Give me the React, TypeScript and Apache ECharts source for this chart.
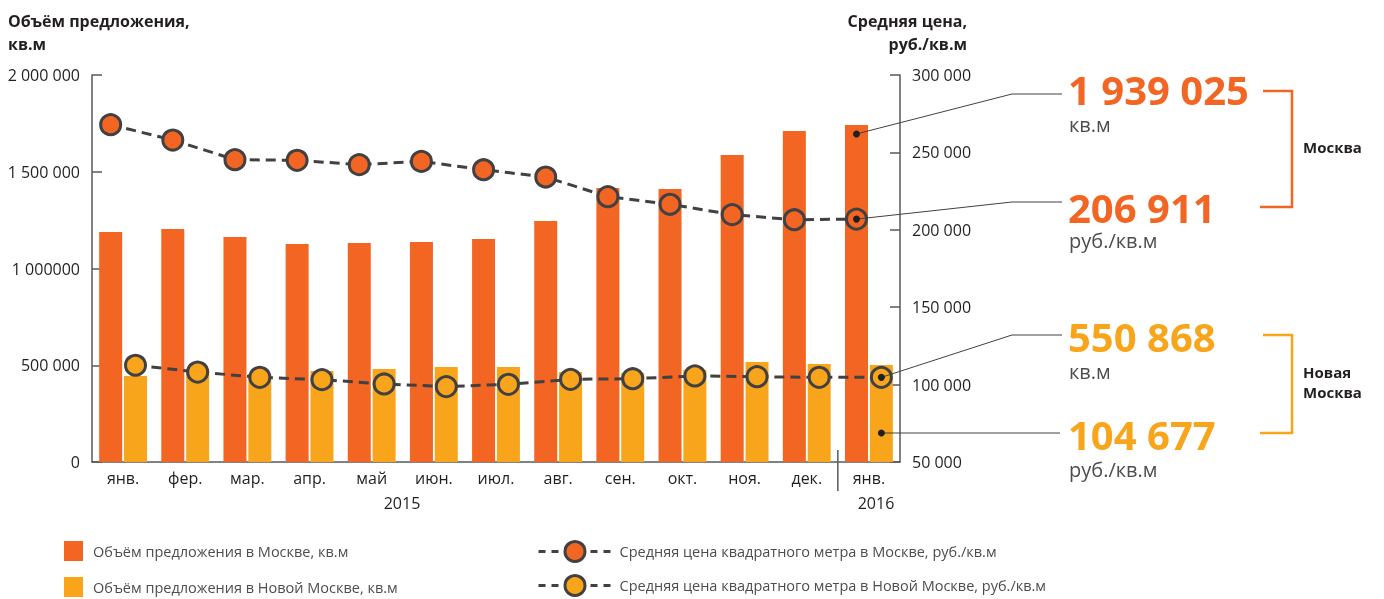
import React, { useEffect, useRef } from 'react';
import * as echarts from 'echarts';

const months = ['янв.', 'фер.', 'мар.', 'апр.', 'май', 'июн.', 'июл.', 'авг.', 'сен.', 'окт.', 'ноя.', 'дек.', 'янв.'];
const yearLabels = ['2015', '2016'];
const moscowVolume = [1189000, 1204000, 1163000, 1127000, 1132000, 1137000, 1152000, 1245000, 1416000, 1411000, 1587000, 1711000, 1742000];
const newMoscowVolume = [444000, 480000, 455000, 470000, 481000, 491000, 491000, 465000, 460000, 475000, 517000, 506000, 501000];
const moscowPrice = [267900, 258000, 245300, 244900, 242100, 244200, 238800, 234100, 221400, 216500, 209800, 206500, 206911];
const newMoscowPrice = [112500, 108100, 104700, 103200, 100400, 98700, 100200, 103400, 103800, 105600, 105100, 104700, 104677];
const leftTickLabels = ['0', '500 000', '1 000000', '1 500 000', '2 000 000'];
const seriesNames = [
  'Объём предложения в Москве, кв.м',
  'Объём предложения в Новой Москве, кв.м',
  'Средняя цена квадратного метра в Москве, руб./кв.м',
  'Средняя цена квадратного метра в Новой Москве, руб./кв.м',
];
const calloutValues = ['1 939 025', '206 911', '550 868', '104 677'];
const calloutUnits = ['кв.м', 'руб./кв.м', 'кв.м', 'руб./кв.м'];

const ORANGE = '#F26522';
const YELLOW = '#F8A51C';
const DARK = '#414042';
const AXIS = '#58595b';
const TEXT = '#231f20';
const GREY = '#4d4d4f';
const FONT = '"Open Sans", "Noto Sans", sans-serif';
const LINE_SHIFT = 0.2;

const fmt = (v: number) => String(v).replace(/\B(?=(\d{3})+(?!\d))/g, ' ');

export default function App() {
  const ref = useRef<HTMLDivElement>(null);
  useEffect(() => {
    const chart = echarts.init(ref.current!, null, { renderer: 'svg' });
    const lineSeries = (name: string, data: number[], color: string, shift: number) => ({
      name,
      type: 'line',
      xAxisIndex: 1,
      yAxisIndex: 1,
      data: data.map((v, i) => [i + shift, v]),
      symbol: 'circle',
      symbolSize: 20,
      z: 4,
      itemStyle: { color, borderColor: DARK, borderWidth: 3 },
      lineStyle: { color: DARK, width: 3, type: [10, 6] },
    });
    chart.setOption({
      animation: false,
      textStyle: { fontFamily: FONT },
      grid: { left: 92, right: 484, top: 75, bottom: 137, containLabel: false },
      legend: [
        {
          data: [seriesNames[0], seriesNames[1]],
          orient: 'vertical',
          left: 64,
          top: 541,
          height: 58,
          padding: 0,
          itemWidth: 19,
          itemHeight: 20,
          itemGap: 16,
          icon: 'rect',
          selectedMode: false,
          textStyle: { fontSize: 14.5, color: GREY, fontFamily: FONT, padding: [0, 0, 0, 5] },
        },
        {
          data: [seriesNames[2], seriesNames[3]],
          orient: 'vertical',
          left: 537,
          top: 540,
          height: 59,
          padding: 0,
          itemWidth: 73,
          itemHeight: 25,
          itemGap: 11,
          selectedMode: false,
          lineStyle: { width: 3, type: [7, 6] },
          itemStyle: { borderWidth: 3 },
          textStyle: { fontSize: 14.5, color: GREY, fontFamily: FONT, padding: [0, 0, 0, 3] },
        },
      ],
      xAxis: [
        {
          type: 'category',
          data: months,
          boundaryGap: true,
          axisLine: { onZero: false, lineStyle: { color: AXIS, width: 1.5 } },
          axisTick: { inside: true, length: 10, interval: 0, lineStyle: { color: AXIS, width: 1.5 } },
          axisLabel: { interval: 0, margin: 8, fontSize: 16, color: TEXT, fontFamily: FONT },
        },
        { type: 'value', min: -0.5, max: months.length - 0.5, show: false, axisLine: { onZero: false } },
      ],
      yAxis: [
        {
          type: 'value',
          min: 0,
          max: 2000000,
          interval: 500000,
          position: 'left',
          axisLine: { show: true, onZero: false, lineStyle: { color: AXIS, width: 1.5 } },
          axisTick: { show: true, inside: true, length: 10, lineStyle: { color: AXIS, width: 1.5 } },
          axisLabel: { margin: 12, fontSize: 16, color: TEXT, fontFamily: FONT, formatter: (_v: number, i: number) => leftTickLabels[i] },
          splitLine: { show: false },
        },
        {
          type: 'value',
          min: 50000,
          max: 300000,
          interval: 50000,
          position: 'right',
          axisLine: { show: true, onZero: false, lineStyle: { color: AXIS, width: 1.5 } },
          axisTick: { show: true, inside: true, length: 10, lineStyle: { color: AXIS, width: 1.5 } },
          axisLabel: { margin: 12, fontSize: 16, color: TEXT, fontFamily: FONT, formatter: (v: number) => fmt(v) },
          splitLine: { show: false },
        },
      ],
      series: [
        { name: seriesNames[0], type: 'bar', data: moscowVolume, barWidth: 23, barGap: '8%', itemStyle: { color: ORANGE }, z: 2 },
        { name: seriesNames[1], type: 'bar', data: newMoscowVolume, barWidth: 23, barGap: '8%', itemStyle: { color: YELLOW }, z: 2 },
        lineSeries(seriesNames[2], moscowPrice, ORANGE, -LINE_SHIFT),
        lineSeries(seriesNames[3], newMoscowPrice, YELLOW, LINE_SHIFT),
      ],
    });

    const last = months.length - 1;
    const px = (axis: 'x' | 'y', idx: number, v: number) =>
      chart.convertToPixel(axis === 'x' ? { xAxisIndex: idx } : { yAxisIndex: idx }, v) as unknown as number;
    const xm = px('x', 1, last - LINE_SHIFT);
    const xn = px('x', 1, last + LINE_SHIFT);
    const y0 = px('y', 0, 0);
    const dots = [
      [xm, px('y', 0, moscowVolume[last]) + 9],
      [xm, px('y', 1, moscowPrice[last])],
      [xn, px('y', 1, newMoscowPrice[last])],
      [xn, y0 - 29],
    ];
    const labelY = [94, 202, 335, 433];
    const valueY = [89, 207, 336, 434];
    const unitY = [124, 240, 371, 469];
    const colors = [ORANGE, ORANGE, YELLOW, YELLOW];
    const sepX = (px('x', 0, last - 1) + px('x', 0, last)) / 2;
    const graphics: any[] = [];
    const txt = (text: string, x: number, y: number, size: number, fill: string, bold = false, align = 'left', lh?: number) => ({
      type: 'text',
      x,
      y,
      z: 20,
      style: { text, fill, fontSize: size, fontWeight: bold ? 'bold' : 'normal', fontFamily: FONT, align, verticalAlign: 'middle', lineHeight: lh ?? Math.round(size * 1.2) },
    });
    graphics.push(txt('Объём предложения,', 8, 21, 16, TEXT, true));
    graphics.push(txt('кв.м', 8, 44, 16, TEXT, true));
    graphics.push(txt('Средняя цена,', 967, 21, 16, TEXT, true, 'right'));
    graphics.push(txt('руб./кв.м', 967, 44, 16, TEXT, true, 'right'));
    graphics.push(txt(yearLabels[0], 402, 503, 16, TEXT, false, 'center'));
    graphics.push(txt(yearLabels[1], 876, 503, 16, TEXT, false, 'center'));
    graphics.push({ type: 'line', z: 20, shape: { x1: sepX, y1: y0 - 12, x2: sepX, y2: y0 + 29 }, style: { stroke: AXIS, lineWidth: 1.5 } });
    dots.forEach((d, i) => {
      const pts = i === 3 ? [d, [1060, labelY[i]]] : [d, [1012, labelY[i]], [1062, labelY[i]]];
      graphics.push({ type: 'polyline', z: 20, shape: { points: pts }, style: { stroke: DARK, lineWidth: 1, fill: 'none' } });
      graphics.push({ type: 'circle', z: 21, shape: { cx: d[0], cy: d[1], r: 3.5 }, style: { fill: TEXT } });
      graphics.push(txt(calloutValues[i], 1068, valueY[i], 40, colors[i], true, 'left', 30));
      graphics.push(txt(calloutUnits[i], 1069, unitY[i], 20, GREY, false, 'left', 20));
    });
    graphics.push({ type: 'polyline', z: 20, shape: { points: [[1263, 91], [1292, 91], [1292, 207], [1260, 207]] }, style: { stroke: ORANGE, lineWidth: 2.5, fill: 'none' } });
    graphics.push({ type: 'polyline', z: 20, shape: { points: [[1263, 335], [1292, 335], [1292, 433], [1260, 433]] }, style: { stroke: YELLOW, lineWidth: 2.5, fill: 'none' } });
    graphics.push(txt('Москва', 1303, 147, 15, TEXT, true));
    graphics.push(txt('Новая', 1303, 372, 15, TEXT, true));
    graphics.push(txt('Москва', 1303, 392, 15, TEXT, true));
    chart.setOption({ graphic: graphics });
    return () => chart.dispose();
  }, []);
  return <div ref={ref} style={{ position: 'fixed', left: 0, top: 0, width: 1384, height: 599 }} />;
}
